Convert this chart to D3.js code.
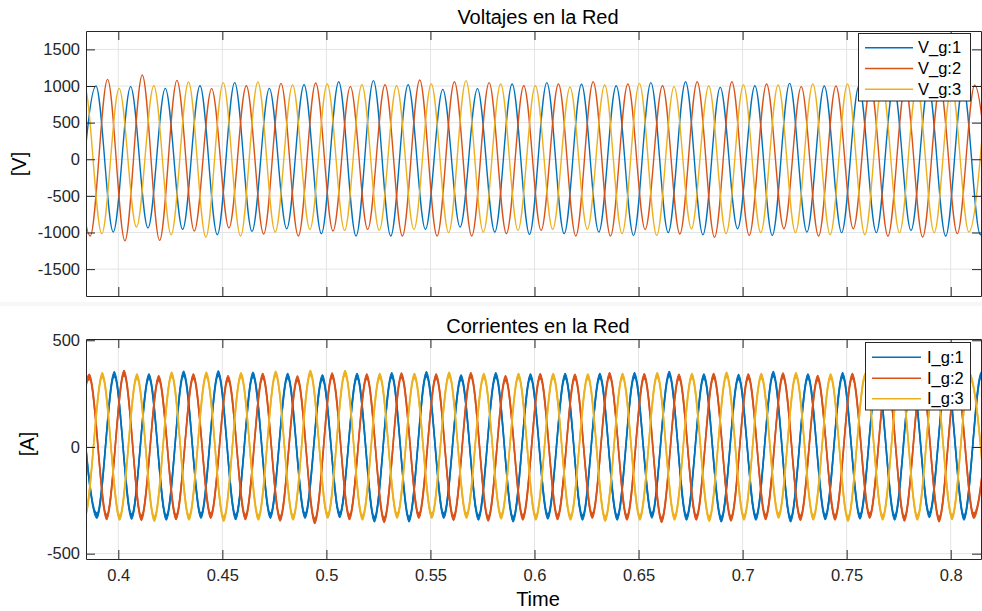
<!DOCTYPE html>
<html><head><meta charset="utf-8">
<script src="https://cdn.jsdelivr.net/npm/d3@7"></script>
<style>
html,body{margin:0;padding:0;background:#fff;}
svg{display:block;font-family:"Liberation Sans",Arial,Helvetica,sans-serif;}
</style></head><body>
<svg id="chart" width="982" height="611"></svg>
<script>
// ---------------- data ----------------
const halfPeriod = 1 / 120;               // time between successive extremes (60 Hz)
const timeTicks = [0.4, 0.45, 0.5, 0.55, 0.6, 0.65, 0.7, 0.75, 0.8];
const timeTickLabels = ["0.4", "0.45", "0.5", "0.55", "0.6", "0.65", "0.7", "0.75", "0.8"];
const voltTicks = [-1500, -1000, -500, 0, 500, 1000, 1500];
const voltTickLabels = ["-1500", "-1000", "-500", "0", "500", "1000", "1500"];
const currTicks = [-500, 0, 500];
const currTickLabels = ["-500", "0", "500"];
const voltNames = ["V_g:1", "V_g:2", "V_g:3"];
const currNames = ["I_g:1", "I_g:2", "I_g:3"];
const seriesColors = ["#0072BD", "#D95319", "#EDB120"];

// successive peak / trough values of each phase, first extreme time
const vg1Start = 0.38092;
const vg1 = [-1000, 1000, -993, 991, -939, 968, -957, 1004, -1030, 1046, -985, 968, -948, 1018, -1016, 1059, -1048, 1073, -1048, 1018, -957, 954, -925, 964, -994, 1027, -1025, 1046, -1016, 1023, -994, 1004, -1039, 1046, -1002, 1059, -1030, 982, -948, 1004, -1039, 1036, -994, 1000, -1002, 1000, -1002, 1000, -971, 1000, -1048, 1000, -1030, 1000];
const vg2Start = 0.37818;
const vg2 = [1000, -1048, 1091, -1112, 1150, -1107, 1077, -980, 964, -939, 1004, -1021, 1036, -1048, 1041, -980, 991, -957, 1018, -1048, 1082, -1048, 1059, -1048, 1046, -1016, 1004, -971, 1027, -1048, 1059, -1048, 1027, -957, 1004, -1021, 1059, -1066, 1059, -1039, 1027, -948, 991, -1048, 1000, -948, 1000, -1048, 1000, -1062, 1000, -1016, 1010, -1000];
const vg3Start = 0.37540;
const vg3 = [-1000, 1000, -1016, 968, -925, 1004, -1030, 1055, -1062, 1046, -1048, 1055, -994, 1013, -957, 1027, -971, 1018, -971, 1004, -957, 1027, -1002, 1073, -994, 1027, -971, 1004, -957, 982, -957, 1013, -1016, 1036, -1039, 991, -948, 1000, -1016, 1013, -1002, 1013, -1002, 1027, -1030, 1027, -1030, 1000, -1002, 1000, -1002, 1000, -994, 1000];

const ig1Start = 0.38140;
const ig1 = [335, -322, 340, -326, 330, -330, 343, -322, 344, -328, 338, -322, 332, -322, 325, -318, 332, -338, 335, -338, 340, -322, 325, -330, 335, -338, 330, -325, 332, -330, 332, -330, 336, -320, 341, -330, 330, -338, 327, -330, 341, -338, 330, -328, 336, -325, 335, -330, 335, -318, 335, -330, 338, -330];
const ig2Start = 0.37775;
const ig2 = [-325, 328, -328, 346, -332, 322, -328, 330, -322, 322, -328, 332, -335, 320, -346, 334, -328, 330, -342, 334, -322, 330, -332, 336, -335, 322, -330, 331, -328, 328, -322, 336, -330, 331, -342, 328, -330, 332, -335, 330, -328, 334, -332, 323, -330, 332, -322, 330, -335, 330, -338, 328, -322, 330];
const ig3Start = 0.37564;
const ig3 = [330, -318, 335, -330, 330, -336, 338, -330, 338, -336, 336, -330, 342, -330, 346, -322, 346, -330, 332, -322, 332, -322, 338, -322, 332, -325, 332, -330, 332, -330, 330, -336, 332, -330, 336, -330, 332, -336, 338, -330, 332, -322, 336, -330, 330, -336, 333, -330, 335, -330, 332, -328, 335, -330];
const currentRipple = 13;   // switching ripple band half-height [A]

// ---------------- layout ----------------
const svg = d3.select("#chart");
const L = 86, R = 981;
const topP = {top: 31, bottom: 296, domain: [-1867, 1751]};
const botP = {top: 339, bottom: 559, domain: [-525, 506]};
const x = d3.scaleLinear().domain([0.38448, 0.81456]).range([L, R]);
const yV = d3.scaleLinear().domain(topP.domain).range([topP.bottom, topP.top]);
const yI = d3.scaleLinear().domain(botP.domain).range([botP.bottom, botP.top]);
const axisColor = "#262626", gridColor = "#e4e4e4";

const toPts = (start, arr) => arr.map((v, i) => ({t: start + i * halfPeriod, v}));

const defs = svg.append("defs");
function clip(id, p) {
  defs.append("clipPath").attr("id", id).append("rect")
    .attr("x", L).attr("y", p.top).attr("width", R - L).attr("height", p.bottom - p.top);
}
clip("clipTop", topP); clip("clipBot", botP);

// faint seam between panels
svg.append("rect").attr("x", 0).attr("y", 302).attr("width", 982).attr("height", 4).attr("fill", "#f7f7f7");

function panel(p, y, yTicks, yLabels, clipId, showXLabels) {
  const g = svg.append("g");
  g.append("rect").attr("x", L).attr("y", p.top).attr("width", R - L).attr("height", p.bottom - p.top).attr("fill", "#fff");
  g.selectAll(".gx").data(timeTicks).join("line").attr("class", "gx")
    .attr("x1", d => x(d)).attr("x2", d => x(d)).attr("y1", p.top).attr("y2", p.bottom)
    .attr("stroke", gridColor).attr("stroke-width", 1);
  g.selectAll(".gy").data(yTicks).join("line").attr("class", "gy")
    .attr("x1", L).attr("x2", R).attr("y1", d => y(d)).attr("y2", d => y(d))
    .attr("stroke", gridColor).attr("stroke-width", 1);
  const data = g.append("g").attr("clip-path", `url(#${clipId})`);
  const ax = svg.append("g").attr("class", "axes");
  const bottomAxis = d3.axisBottom(x).tickValues(timeTicks).tickSize(-9).tickSizeOuter(0).tickPadding(10)
    .tickFormat((d, i) => showXLabels ? timeTickLabels[i] : "");
  const topAxis = d3.axisTop(x).tickValues(timeTicks).tickSize(-9).tickSizeOuter(0).tickFormat("");
  const leftAxis = d3.axisLeft(y).tickValues(yTicks).tickSize(-9).tickSizeOuter(0).tickPadding(6)
    .tickFormat((d, i) => yLabels[i]);
  const rightAxis = d3.axisRight(y).tickValues(yTicks).tickSize(-9).tickSizeOuter(0).tickFormat("");
  ax.append("g").attr("transform", `translate(0,${p.bottom})`).call(bottomAxis);
  ax.append("g").attr("transform", `translate(0,${p.top})`).call(topAxis);
  ax.append("g").attr("transform", `translate(${L},0)`).call(leftAxis);
  ax.append("g").attr("transform", `translate(${R},0)`).call(rightAxis);
  ax.selectAll(".domain").attr("stroke", axisColor).attr("stroke-width", 1);
  ax.selectAll(".tick line").attr("stroke", axisColor).attr("stroke-width", 1);
  ax.selectAll(".tick text").attr("fill", axisColor).attr("font-size", 16.5)
    .attr("font-family", "Liberation Sans, Arial, sans-serif");
  return {data, ax};
}

// ---------------- top panel: voltages ----------------
const topPanel = panel(topP, yV, voltTicks, voltTickLabels, "clipTop", false);
const vLine = d3.line().x(d => x(d.t)).y(d => yV(d.v)).curve(d3.curveMonotoneX);
[[vg1Start, vg1], [vg2Start, vg2], [vg3Start, vg3]].forEach(([s, arr], i) => {
  topPanel.data.append("path").datum(toPts(s, arr)).attr("d", vLine)
    .attr("fill", "none").attr("stroke", seriesColors[i]).attr("stroke-width", 1.4);
});

// ---------------- bottom panel: currents ----------------
const botPanel = panel(botP, yI, currTicks, currTickLabels, "clipBot", true);
const iArea = d3.area().x(d => x(d.t))
  .y0(d => yI(d.v - currentRipple)).y1(d => yI(d.v + currentRipple)).curve(d3.curveMonotoneX);
const iLine = d3.line().x(d => x(d.t)).y(d => yI(d.v)).curve(d3.curveMonotoneX);
[[ig1Start, ig1], [ig2Start, ig2], [ig3Start, ig3]].forEach(([s, arr], i) => {
  const pts = toPts(s, arr);
  botPanel.data.append("path").datum(pts).attr("d", iArea)
    .attr("fill", seriesColors[i]).attr("stroke", seriesColors[i]).attr("stroke-width", 1.2);
  botPanel.data.append("path").datum(pts).attr("d", iLine)
    .attr("fill", "none").attr("stroke", seriesColors[i]).attr("stroke-width", 1.6);
});

// ---------------- text ----------------
const txt = (xx, yy, s, size, anchor = "middle") => svg.append("text").attr("x", xx).attr("y", yy)
  .attr("font-size", size).attr("text-anchor", anchor).attr("fill", "#000").text(s);
txt(538, 24, "Voltajes en la Red", 20);
txt(538, 333, "Corrientes en la Red", 20);
txt(538, 606, "Time", 20);
svg.append("text").attr("transform", "translate(26,164) rotate(-90)").attr("text-anchor", "middle")
  .attr("font-size", 20).attr("fill", "#000").text("[V]");
svg.append("text").attr("transform", "translate(34,444) rotate(-90)").attr("text-anchor", "middle")
  .attr("font-size", 20).attr("fill", "#000").text("[A]");

// ---------------- legends ----------------
function legend(box, rows, lineX0, lineX1, textX, names) {
  const g = svg.append("g");
  g.append("rect").attr("x", box[0]).attr("y", box[1]).attr("width", box[2] - box[0]).attr("height", box[3] - box[1])
    .attr("fill", "#fff").attr("stroke", axisColor).attr("stroke-width", 1);
  names.forEach((n, i) => {
    g.append("line").attr("x1", lineX0).attr("x2", lineX1).attr("y1", rows[i]).attr("y2", rows[i])
      .attr("stroke", seriesColors[i]).attr("stroke-width", 1.5);
    g.append("text").attr("x", textX).attr("y", rows[i]).attr("dy", "0.35em").attr("font-size", 16.5)
      .attr("fill", "#000").text(n);
  });
}
legend([858.5, 33.5, 970.5, 101], [47.7, 68.5, 89.3], 865, 913, 918, voltNames);
legend([865.5, 342.5, 970.5, 410], [357.3, 378.3, 398.7], 872, 921, 927, currNames);
</script>
</body></html>
